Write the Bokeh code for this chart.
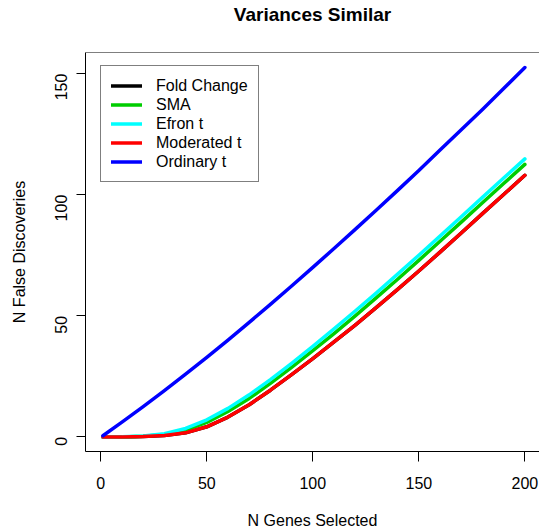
import math
from bokeh.plotting import figure
from bokeh.models import Range1d, FixedTicker, Legend, LegendItem, Span, LinearAxis
from bokeh.embed import file_html
from bokeh.resources import INLINE

# ---- data ----
n_genes = [1, 10, 20, 30, 40, 50, 60, 70, 80, 90, 100,
           110, 120, 130, 140, 150, 160, 170, 180, 190, 200]
fold_change = [0.0, 0.0, 0.2, 0.6, 1.7, 4.2, 8.2, 13.3, 19.3, 25.7, 32.3,
               39.2, 46.2, 53.5, 60.9, 68.5, 76.3, 84.2, 92.2, 100.1, 108.0]
sma = [0.0, 0.0, 0.3, 1.0, 2.8, 6.0, 10.5, 15.9, 22.1, 28.7, 35.6,
       42.7, 50.0, 57.5, 65.1, 72.9, 80.8, 88.7, 96.7, 104.6, 112.5]
efron_t = [0.0, 0.05, 0.4, 1.3, 3.5, 7.1, 11.8, 17.4, 23.7, 30.4, 37.4,
           44.6, 52.0, 59.5, 67.2, 75.0, 82.9, 90.9, 98.9, 106.9, 114.8]
moderated_t = [0.0, 0.0, 0.2, 0.6, 1.7, 4.2, 8.2, 13.3, 19.3, 25.7, 32.3,
               39.2, 46.2, 53.5, 60.9, 68.5, 76.3, 84.2, 92.2, 100.1, 108.0]
ordinary_t = [0.5, 6.1, 12.5, 19.1, 25.9, 32.9, 40.0, 47.3, 54.7, 62.3, 70.0,
              77.8, 85.7, 93.7, 101.8, 110.0, 118.5, 126.8, 135.2, 143.8, 152.5]
x_ticks = [0, 50, 100, 150, 200]
y_ticks = [0, 50, 100, 150]
chart_title = "Variances Similar"

series_names = ["Fold Change", "SMA", "Efron t", "Moderated t", "Ordinary t"]
series_values = [fold_change, sma, efron_t, moderated_t, ordinary_t]
series_colors = ["#000000", "#00CD00", "#00FFFF", "#FF0000", "#0000FF"]

FONT = "Liberation Sans"

p = figure(width=539, height=531, output_backend="svg", toolbar_location=None,
           x_range=Range1d(-7.2, 206.9), y_range=Range1d(-6.0, 158.7),
           min_border_left=85, min_border_right=0, min_border_top=52,
           min_border_bottom=80)
p.outline_line_color = None
p.grid.visible = False
p.background_fill_color = "white"
p.border_fill_color = "white"

# axes
for ax in (p.xaxis[0], p.yaxis[0]):
    ax.axis_line_color = "black"
    ax.axis_line_width = 1
    ax.major_tick_line_color = "black"
    ax.major_tick_in = 0
    ax.minor_tick_line_color = None
    ax.major_label_text_font = FONT
    ax.major_label_text_font_size = "16px"
    ax.major_label_text_color = "black"
    ax.axis_label_text_font = FONT
    ax.axis_label_text_font_size = "16px"
    ax.axis_label_text_font_style = "normal"
    ax.axis_label_text_color = "black"

p.xaxis[0].ticker = FixedTicker(ticks=x_ticks)
p.yaxis[0].ticker = FixedTicker(ticks=y_ticks)
p.xaxis[0].major_tick_out = 10
p.yaxis[0].major_tick_out = 9
p.xaxis[0].major_label_standoff = 15
p.xaxis[0].axis_label = "N Genes Selected"
p.xaxis[0].axis_label_standoff = 20
p.yaxis[0].axis_label = "N False Discoveries"
p.yaxis[0].major_label_orientation = math.pi / 2
p.yaxis[0].major_label_standoff = 15
p.yaxis[0].axis_label_standoff = 19

# title, drawn as the label of an otherwise empty axis above the frame
title_axis = LinearAxis(ticker=FixedTicker(ticks=[]), axis_label=chart_title)
title_axis.axis_line_color = None
title_axis.major_tick_line_color = None
title_axis.minor_tick_line_color = None
title_axis.major_tick_out = 0
title_axis.major_tick_in = 0
title_axis.minor_tick_out = 0
title_axis.major_label_text_font_size = "0px"
title_axis.axis_label_text_font = FONT
title_axis.axis_label_text_font_style = "bold"
title_axis.axis_label_text_font_size = "19px"
title_axis.axis_label_text_color = "black"
title_axis.axis_label_standoff = 28
p.add_layout(title_axis, "above")

# top border of box
p.add_layout(Span(location=158.7, dimension="width", line_color="black", line_width=1))

items = []
for name, vals, col in zip(series_names, series_values, series_colors):
    r = p.line(n_genes, vals, line_color=col, line_width=3.5, line_cap="round",
               line_join="round")
    items.append(LegendItem(label=name, renderers=[r]))

legend = Legend(items=items, location=(15, 269))
legend.border_line_color = "black"
legend.border_line_width = 1
legend.background_fill_color = "white"
legend.background_fill_alpha = 1.0
legend.label_text_font = FONT
legend.label_text_font_size = "16px"
legend.label_text_color = "black"
legend.glyph_width = 31
legend.glyph_height = 19
legend.label_height = 19
legend.label_standoff = 14
legend.padding = 10
legend.spacing = 0
legend.margin = 0
p.add_layout(legend, "center")

open("out.html", "w").write(file_html(p, INLINE))
